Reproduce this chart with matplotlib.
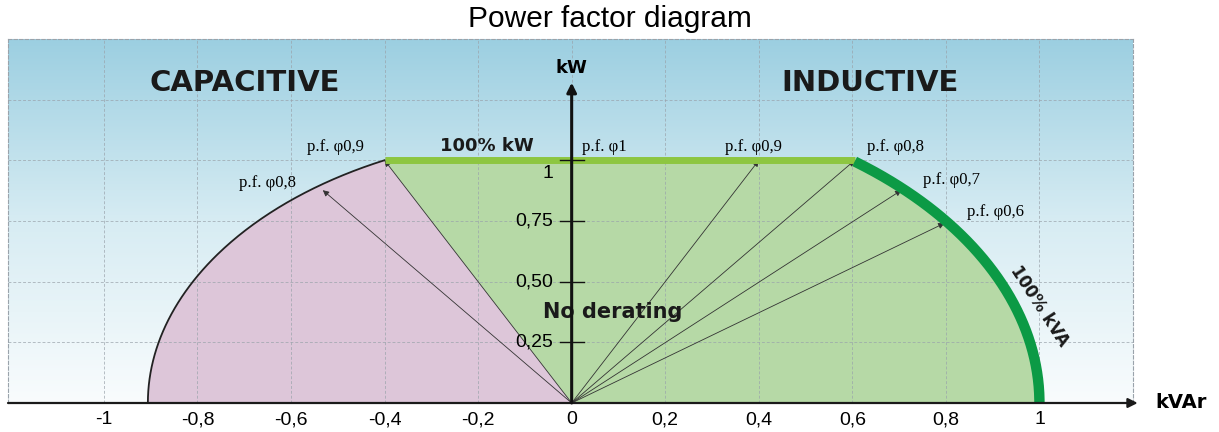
import numpy as np
import matplotlib
matplotlib.use('Agg')
import matplotlib.pyplot as plt
from matplotlib.colors import LinearSegmentedColormap

# axis ticks
x_ticks = [-1, -0.8, -0.6, -0.4, -0.2, 0, 0.2, 0.4, 0.6, 0.8, 1]
x_tick_labels = ['-1', '-0,8', '-0,6', '-0,4', '-0,2', '0', '0,2', '0,4', '0,6', '0,8', '1']
y_ticks = [0.25, 0.5, 0.75, 1]
y_tick_labels = ['0,25', '0,50', '0,75', '1']

# inductive side: vector tips (kVAr, kW) and their labels
ind_labels = ['p.f. φ0,9', 'p.f. φ0,8', 'p.f. φ0,7', 'p.f. φ0,6']
ind_kvar = [0.40, 0.605, 0.705, 0.797]
ind_kw = [1.0, 1.0, 0.877, 0.741]
ind_label_x = [0.389, 0.692, 0.812, 0.906]
ind_label_y = [1.054, 1.054, 0.918, 0.786]

# capacitive side
cap_labels = ['p.f. φ0,9', 'p.f. φ0,8']
cap_kvar = [-0.40, -0.532]
cap_kw = [1.0, 0.877]
cap_label_x = [-0.506, -0.65]
cap_label_y = [1.054, 0.905]

# limit curves (semi axes of the drawn arcs)
kva_a, kva_b = 1.0, 1.25
cap_a, cap_b = 0.906, 1.115
kw_limit = 1.0

pink = '#ddc6d9'
green_fill = '#b6d9a6'
light_green = '#8dc641'
dark_green = '#0c9a45'

fig = plt.figure(figsize=(12.19, 4.32), dpi=100)
ax = fig.add_axes([8 / 1219, 29 / 432, 1125 / 1219, 364 / 432])
xmin, xmax, ymin, ymax = -1.205, 1.2, 0, 1.5
ax.set_xlim(xmin, xmax)
ax.set_ylim(ymin, ymax)

# gradient background
cmap = LinearSegmentedColormap.from_list('bg', [(0, '#f9fcfd'), (0.5, '#d7ecf3'), (1, '#9ccfe1')])
grad = np.linspace(0, 1, 256).reshape(-1, 1)
ax.imshow(grad, extent=(xmin, xmax, ymin, ymax), origin='lower', aspect='auto', cmap=cmap, zorder=0)

# capacitive region
t_cap = np.linspace(0, np.arccos(-cap_kvar[0] / cap_a), 200)
cx = -cap_a * np.cos(t_cap)
cy = cap_b * np.sin(t_cap)
ax.fill(np.r_[cx, 0], np.r_[cy, 0], color=pink, zorder=1, lw=0)
ax.plot(cx, cy, color='#222222', lw=1.3, zorder=4)

# inductive / no derating region
t_ind = np.linspace(np.arccos(ind_kvar[1] / kva_a), 0, 200)
ix = kva_a * np.cos(t_ind)
iy = kva_b * np.sin(t_ind)
ax.fill(np.r_[0, cap_kvar[0], ix, 0], np.r_[0, kw_limit, iy, 0], color=green_fill, zorder=1, lw=0)
ax.plot([cap_kvar[0], ind_kvar[1]], [kw_limit, kw_limit], color=light_green, lw=5, zorder=5,
        solid_capstyle='butt')
ax.plot(ix, iy, color=dark_green, lw=7.5, zorder=5, solid_capstyle='butt')

# grid
ax.set_xticks(x_ticks)
ax.set_xticklabels(x_tick_labels, fontsize=14, family='Liberation Sans')
ax.set_yticks(y_ticks + [1.25])
ax.set_yticklabels([])
ax.tick_params(which='both', length=0, pad=6)
ax.set_axisbelow(False)
ax.grid(True, color='#9aa3ab', lw=0.7, ls=(0, (3, 2)), alpha=0.7)
for s in ['left', 'right', 'top']:
    ax.spines[s].set_color('#9aa3ab')
    ax.spines[s].set_linestyle((0, (3, 2)))
    ax.spines[s].set_linewidth(0.8)
ax.spines['bottom'].set_visible(False)

# vectors
arrow = dict(arrowstyle='-|>', lw=0.6, color='#333333', mutation_scale=9, shrinkA=0, shrinkB=0)
for kx, ky in zip(ind_kvar + cap_kvar, ind_kw + cap_kw):
    ax.annotate('', xy=(kx, ky), xytext=(0, 0), arrowprops=arrow, zorder=4)

# axes arrows
ax.annotate('', xy=(1.21, 0), xytext=(xmin, 0), annotation_clip=False,
            arrowprops=dict(arrowstyle='-|>', lw=1.6, color='#1a1a1a', mutation_scale=14,
                            shrinkA=0, shrinkB=0), zorder=6)
ax.annotate('', xy=(0, 1.32), xytext=(0, 0),
            arrowprops=dict(arrowstyle='-|>', lw=2.2, color='#111111', mutation_scale=14,
                            shrinkA=0, shrinkB=0), zorder=7)
ax.text(0, 1.38, 'kW', ha='center', va='center', fontsize=13, fontweight='bold', zorder=7)
ax.text(1.303, 0.0, 'kVAr', ha='center', va='center', fontsize=14, fontweight='bold', clip_on=False)

# y ticks on the kW axis
for yv, lab in zip(y_ticks, y_tick_labels):
    ax.plot([-0.026, 0.026], [yv, yv], color='#111111', lw=1, zorder=7)
    ly = yv - 0.055 if yv == 1 else yv
    ax.text(-0.04, ly, lab, ha='right', va='center', fontsize=14, family='Liberation Sans', zorder=6)

# labels
for lab, lx, ly in zip(ind_labels + cap_labels, ind_label_x + cap_label_x, ind_label_y + cap_label_y):
    ax.text(lx, ly, lab, ha='center', va='center', fontsize=12, family='Liberation Serif', zorder=6)
ax.text(0.023, 1.054, 'p.f. φ1', ha='left', va='center', fontsize=12, family='Liberation Serif', zorder=6)

ax.text(-0.699, 1.317, 'CAPACITIVE', ha='center', va='center', fontsize=21, fontweight='bold',
        color='#1a1a1a', zorder=6)
ax.text(0.637, 1.317, 'INDUCTIVE', ha='center', va='center', fontsize=21, fontweight='bold',
        color='#1a1a1a', zorder=6)
ax.text(-0.182, 1.058, '100% kW', ha='center', va='center', fontsize=13, fontweight='bold',
        color='#1a1a1a', zorder=6)
ax.text(0.088, 0.375, 'No derating', ha='center', va='center', fontsize=15, fontweight='bold',
        color='#1a1a1a', zorder=6)
ax.text(1.0, 0.40, '100% kVA', ha='center', va='center', fontsize=12, fontweight='bold',
        rotation=-57, color='#1a1a1a', zorder=6)

fig.suptitle('Power factor diagram', x=0.5, y=0.988, va='top', fontsize=21.5, family='Liberation Sans')

fig.savefig('out.png', dpi=100)
